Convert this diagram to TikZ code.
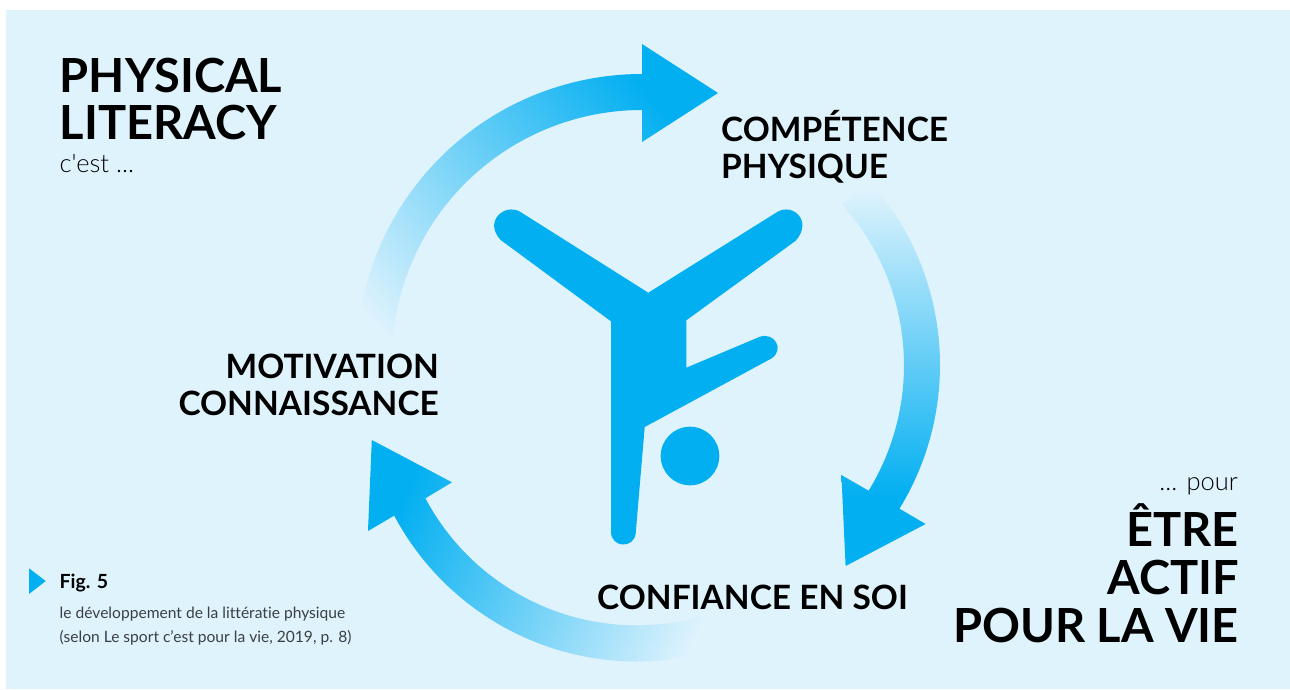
\documentclass[tikz,border=0pt]{standalone}
\usepackage{fontspec}
\setmainfont{Lato}[Ligatures=NoCommon]
\newfontfamily\lightfont{Lato Light}
\definecolor{panelblue}{HTML}{DFF3FD}
\definecolor{iconblue}{HTML}{02AFF1}
\definecolor{captiongray}{HTML}{3A3F44}
\pgfdeclareverticalshading{topfade}{100bp}{color(0bp)=(panelblue); color(26bp)=(panelblue); color(74bp)=(iconblue); color(100bp)=(iconblue)}
\pgfdeclareverticalshading{rightfade}{100bp}{color(0bp)=(panelblue); color(26bp)=(panelblue); color(66bp)=(iconblue); color(100bp)=(iconblue)}
\pgfdeclareverticalshading{lowfade}{100bp}{color(0bp)=(panelblue); color(31bp)=(panelblue); color(73bp)=(iconblue); color(100bp)=(iconblue)}
\tikzset{
	bigtitle/.style = {font=\fontsize{47}{47}\selectfont\bfseries, text=black, inner sep=0, align=left},
	bigactif/.style = {font=\fontsize{47}{48}\selectfont\bfseries, text=black, inner sep=0, align=right},
	steplabel/.style = {font=\fontsize{33.5}{37}\selectfont\bfseries, text=black, inner sep=0},
	thintext/.style = {font=\fontsize{25.5}{25}\selectfont\lightfont, text=black, inner sep=0},
	smalltext/.style = {font=\fontsize{15.6}{24}\selectfont, text=captiongray, inner sep=0, align=left},
	figlabel/.style = {font=\fontsize{19.5}{18}\selectfont\bfseries, text=black, inner sep=0},
}
\begin{document}
\begin{tikzpicture}[x=1pt,y=-1pt]
	\useasboundingbox (0,0) rectangle (1290,689);
	\fill[white] (0,0) rectangle (1290,689);
	\fill[panelblue] (6,10) rectangle (1290,689);

	% arrows of the cycle
	\shade[shading=topfade,shading angle=-50] (642,359.5) ++(192:285.5pt) arc[start angle=192,end angle=90,radius=285.5pt]
		-- (642,44) -- (718,93) -- (642,142) -- (642,110)
		arc[start angle=90,end angle=192,radius=250pt] -- cycle;
	\shade[shading=rightfade,shading angle=180] (665,365) ++(42:275pt) arc[start angle=42,end angle=-31.5,radius=275pt]
		-- (925.6,524) -- (845.6,566) -- (841.4,475) -- (868.6,490.7)
		arc[start angle=-31.5,end angle=42,radius=240pt] -- cycle;
	\shade[shading=lowfade,shading angle=65] (637,386.5) ++(306:275pt) arc[start angle=306,end angle=208,radius=275pt]
		-- (368,531) -- (371.8,440) -- (452,482.3) -- (425.4,498.3)
		arc[start angle=208,end angle=306,radius=239.5pt] -- cycle;

	% figure
	\fill[iconblue] (520,211.7) -- (648.3,292.7) -- (777.7,211.7)
		.. controls (793,203) and (813,221) .. (795.7,240.7) -- (686.3,320.3) -- (686.3,367.7) -- (760,336.7)
		.. controls (774,332) and (785,349) .. (771.7,358.3) -- (644.7,427) -- (635.7,533.3)
		.. controls (634,549) and (611,548) .. (611,531.7) -- (611,321.3) -- (500.7,240)
		.. controls (483,221) and (505,203) .. (520,211.7) -- cycle;
	\fill[iconblue] (690,456) circle[radius=29.3];

	% texts
	\node[bigtitle,anchor=base west] (physical) at (59.5,139) {PHYSICAL\\LITERACY};
	\node[thintext,anchor=base west] (cest) at (59.5,172) {c'est ...};
	\node[steplabel,anchor=base west,align=left] (competence) at (721,178) {COMPÉTENCE\\PHYSIQUE};
	\node[steplabel,anchor=base east,align=right] (motivation) at (439,415) {MOTIVATION\\CONNAISSANCE};
	\node[steplabel,anchor=base west] (confiance) at (597,609) {CONFIANCE EN SOI};
	\node[thintext,anchor=base east] (pour) at (1238,490) {... pour};
	\node[bigactif,anchor=base east] (actif) at (1239,642) {ÊTRE\\ACTIF\\POUR LA VIE};

	% legend
	\fill[iconblue] (29,568.3) -- (45.7,581) -- (29,594) -- cycle;
	\node[figlabel,anchor=base west] (figfive) at (59.5,588) {Fig. 5};
	\node[smalltext,anchor=base west] (caption) at (59.5,642) {le développement de la littératie physique\\(selon Le sport c’est pour la vie, 2019, p. 8)};
\end{tikzpicture}
\end{document}
